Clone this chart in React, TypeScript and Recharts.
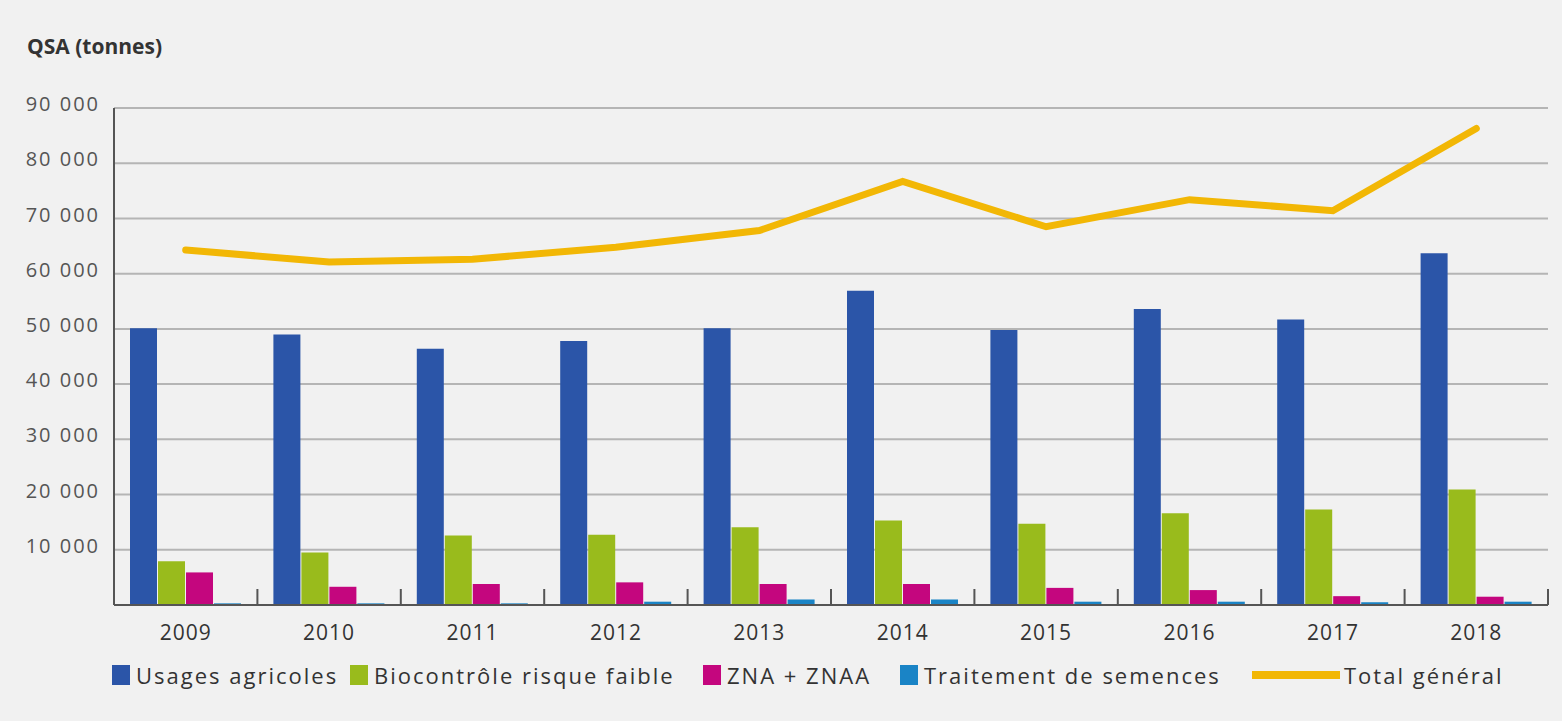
import React from "react";
import { ComposedChart, Bar, Line, XAxis, YAxis, CartesianGrid, Legend } from "recharts";

const years = ["2009", "2010", "2011", "2012", "2013", "2014", "2015", "2016", "2017", "2018"];
const usagesAgricoles = [50100, 49000, 46400, 47800, 50100, 56900, 49800, 53600, 51700, 63700];
const biocontrole = [7900, 9500, 12600, 12700, 14100, 15300, 14700, 16600, 17300, 20900];
const znaZnaa = [5900, 3300, 3800, 4100, 3800, 3800, 3100, 2700, 1600, 1500];
const semences = [300, 300, 300, 600, 1000, 1000, 600, 600, 500, 600];
const totalGeneral = [64300, 62100, 62600, 64800, 67800, 76700, 68500, 73400, 71400, 86300];
const yTicks = [10000, 20000, 30000, 40000, 50000, 60000, 70000, 80000, 90000];

const series = [
  { key: "usages", name: "Usages agricoles", color: "#2b55a8" },
  { key: "bio", name: "Biocontrôle risque faible", color: "#99bb1c" },
  { key: "zna", name: "ZNA + ZNAA", color: "#c4067e" },
  { key: "sem", name: "Traitement de semences", color: "#1a84c6" },
];
const totalColor = "#f2b705";

// legend item left edges (layout only)
const legendLeft = [112, 350, 703, 900];
const totalLegendLeft = 1252;

const data = years.map((y, i) => ({
  year: y,
  usages: usagesAgricoles[i],
  bio: biocontrole[i],
  zna: znaZnaa[i],
  sem: semences[i],
  total: totalGeneral[i],
}));

const W = 1562;
const H = 721;
const M = { top: 108, right: 14, bottom: 0, left: 0 };
const Y_W = 114;
const bandW = (W - M.left - M.right - Y_W) / years.length;

const fmt = (v: number) => String(v).replace(/\B(?=(\d{3})+(?!\d))/g, " ");

function XTick(props: any) {
  const { x, y, payload } = props;
  return (
    <g>
      <line x1={x + bandW / 2} x2={x + bandW / 2} y1={y} y2={y - 16} stroke="#555" strokeWidth={2} />
      <text x={x} y={y + 35} textAnchor="middle" fontSize={21} letterSpacing={1} fill="#333">
        {payload.value}
      </text>
    </g>
  );
}

function LegendContent() {
  const txt: React.CSSProperties = { fontSize: 22, letterSpacing: 2, color: "#333", whiteSpace: "nowrap" };
  return (
    <div style={{ position: "relative", width: W, height: 30 }}>
      {series.map((s, i) => (
        <div key={s.key} style={{ position: "absolute", left: legendLeft[i], top: 0, display: "flex", alignItems: "center", height: 30 }}>
          <span style={{ width: 18, height: 20, background: s.color, display: "inline-block", marginRight: 6 }} />
          <span style={txt}>{s.name}</span>
        </div>
      ))}
      <div style={{ position: "absolute", left: totalLegendLeft, top: 0, display: "flex", alignItems: "center", height: 30 }}>
        <span style={{ width: 88, height: 8, background: totalColor, display: "inline-block", marginRight: 4 }} />
        <span style={txt}>Total général</span>
      </div>
    </div>
  );
}

export default function App() {
  return (
    <div style={{ position: "absolute", top: 0, left: 0, width: W, height: H, background: "#f1f1f1", fontFamily: "'Open Sans', sans-serif" }}>
      <div style={{ position: "absolute", left: 27, top: 32, fontSize: 21, fontWeight: 700, color: "#333" }}>QSA (tonnes)</div>
      <ComposedChart width={W} height={H} data={data} margin={M} barSize={27} barGap={1}>
        <CartesianGrid horizontal vertical={false} stroke="#b5b5b5" strokeWidth={2} />
        <XAxis dataKey="year" height={86} axisLine={{ stroke: "#555", strokeWidth: 2 }} tickLine={false} tickSize={0} tickMargin={0} tick={<XTick />} interval={0} />
        <YAxis
          width={Y_W}
          domain={[0, 90000]}
          ticks={yTicks}
          tickFormatter={fmt}
          axisLine={{ stroke: "#555", strokeWidth: 2 }}
          tickLine={false}
          tickSize={6}
          tickMargin={8}
          tick={{ fontSize: 20, fill: "#555", dy: -4, letterSpacing: 2 }}
        />
        {series.map(s => (
          <Bar key={s.key} dataKey={s.key} name={s.name} fill={s.color} isAnimationActive={false} />
        ))}
        <Line dataKey="total" name="Total général" type="linear" stroke={totalColor} strokeWidth={7} strokeLinecap="round" dot={false} activeDot={false} isAnimationActive={false} />
        <Legend content={<LegendContent />} wrapperStyle={{ position: "absolute", top: 660, left: 0, width: W }} />
      </ComposedChart>
    </div>
  );
}
